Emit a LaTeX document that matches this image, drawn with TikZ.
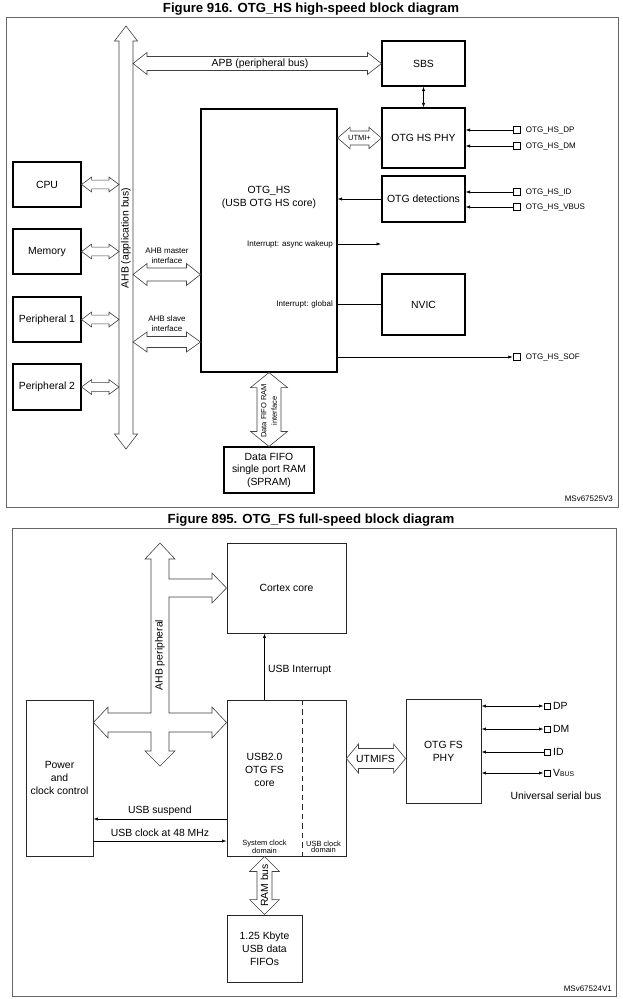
\documentclass[tikz,border=0pt]{standalone}
\usepackage{fontspec}
\setmainfont{Liberation Sans}
\usetikzlibrary{arrows.meta,calc}
\tikzset{
  box/.style={draw=black, line width=1.1pt, inner sep=0pt, align=center, font=\fontsize{10.4}{12.5}\selectfont},
  boxB/.style={draw=black!85, line width=0.9pt, inner sep=0pt, align=center, font=\fontsize{10.4}{13}\selectfont},
  frm/.style={draw=black!60, line width=0.9pt},
  fat/.style={draw=black!75, line width=0.6pt, fill=white},
  thin/.style={draw=black, line width=0.6pt},
  arr/.style={thin, -{Latex[length=4.5pt,width=3.2pt]}},
  darr/.style={thin, {Latex[length=4.5pt,width=3.2pt]}-{Latex[length=4.5pt,width=3.2pt]}},
  pinA/.style={draw, line width=1pt, minimum size=7.5pt, inner sep=0pt},
  pinB/.style={draw, line width=0.7pt, minimum size=6.3pt, inner sep=0pt},
  small/.style={font=\fontsize{8}{10}\selectfont, inner sep=0pt, align=center},
  tiny/.style={font=\fontsize{7.5}{6.5}\selectfont, inner sep=0pt, align=center},
  med/.style={font=\fontsize{10.4}{13}\selectfont, inner sep=0pt, align=center},
  ttl/.style={font=\bfseries\fontsize{13.2}{15}\selectfont, inner sep=0pt},
}
% horizontal fat double arrow: [style]{start}{end}{head length}{head half}{shaft half}
\newcommand\fatH[6][]{%
  \path[fat,#1] let \p1=(#2), \p2=(#3) in
   (\x1,\y1) -- (\x1+#4pt,\y1+#5pt) -- (\x1+#4pt,\y1+#6pt) -- (\x2-#4pt,\y1+#6pt) -- (\x2-#4pt,\y1+#5pt) -- (\x2,\y1)
   -- (\x2-#4pt,\y1-#5pt) -- (\x2-#4pt,\y1-#6pt) -- (\x1+#4pt,\y1-#6pt) -- (\x1+#4pt,\y1-#5pt) -- cycle;}
% vertical fat double arrow: {top}{bottom}{head length}{head half}{shaft half}
\newcommand\fatV[6][]{%
  \path[fat,#1] let \p1=(#2), \p2=(#3) in
   (\x1,\y1) -- (\x1+#5pt,\y1-#4pt) -- (\x1+#6pt,\y1-#4pt) -- (\x1+#6pt,\y2+#4pt) -- (\x1+#5pt,\y2+#4pt) -- (\x1,\y2)
   -- (\x1-#5pt,\y2+#4pt) -- (\x1-#6pt,\y2+#4pt) -- (\x1-#6pt,\y1-#4pt) -- (\x1-#5pt,\y1-#4pt) -- cycle;}
\begin{document}
\begin{tikzpicture}[x=1pt,y=-1pt]
\useasboundingbox (0,0) rectangle (623,999);
\fill[white] (0,0) rectangle (623,999);

%================ Figure 916 ================
\node[ttl] (t1) at (311,9.5) {Figure 916. OTG\_HS high-speed block diagram};
\draw[frm] (6,17) rectangle (618,507);

\node[box, minimum width=68pt, minimum height=45pt] (cpu) at (47,184.5) {CPU};
\node[box, minimum width=68pt, minimum height=45pt] (mem) at (47,251.5) {Memory};
\node[box, minimum width=68pt, minimum height=45pt] (per1) at (47,319.5) {Peripheral 1};
\node[box, minimum width=68pt, minimum height=46pt] (per2) at (47,387) {Peripheral 2};
\node[box, minimum width=136pt, minimum height=263pt] (hs) at (269,240.5) {};
\node[med] (hslbl) at (269,197) {OTG\_HS\\(USB OTG HS core)};
\node[box, minimum width=83pt, minimum height=45pt] (sbs) at (423.5,63.5) {SBS};
\node[box, minimum width=83pt, minimum height=60pt] (phy) at (423.5,138) {OTG HS PHY};
\node[box, minimum width=83pt, minimum height=46pt] (det) at (423.5,199) {OTG detections};
\node[box, minimum width=83pt, minimum height=61pt] (nvic) at (423.5,304.5) {NVIC};
\node[box, minimum width=90pt, minimum height=46pt] (fifo) at (269,470) {Data FIFO\\single port RAM\\(SPRAM)};

% AHB bus
\coordinate (ahbT) at (126,26);
\coordinate (ahbB) at (126,449);
\coordinate (ahbL) at (119,0);
\coordinate (ahbR) at (133,0);
\fatV{ahbT}{ahbB}{15}{11.5}{7}
\node[med, rotate=90] (ahblbl) at (126,238) {AHB (application bus)};

\fatH{cpu.east}{cpu.east -| ahbL}{10}{7.4}{4.4}
\fatH{mem.east}{mem.east -| ahbL}{10}{7.4}{4.4}
\fatH{per1.east}{per1.east -| ahbL}{10}{7.4}{4.4}
\fatH{per2.east}{per2.east -| ahbL}{10}{7.4}{4.4}

% APB
\fatH{ahbR |- sbs.west}{sbs.west}{14}{11}{7}
\node[med] (apblbl) at (260,63.5) {APB (peripheral bus)};

% AHB master / slave
\coordinate (mA) at (0,274.5);
\coordinate (mS) at (0,342);
\fatH{ahbR |- mA}{hs.west |- mA}{14}{11}{6.5}
\fatH{ahbR |- mS}{hs.west |- mS}{14}{10}{5.5}
\node[small] (mlbl) at (167,256) {AHB master\\interface};
\node[small] (slbl) at (167,323.5) {AHB slave\\interface};

% UTMI+
\fatH{hs.east |- phy.west}{phy.west}{12.5}{10.7}{7}
\node[small, font=\fontsize{7.5}{9}\selectfont] (utlbl) at (359.5,138) {UTMI+};

% Data FIFO RAM interface
\fatV{hs.south}{fifo.north}{15}{18.5}{12}
\node[small, font=\fontsize{7.5}{10.5}\selectfont, rotate=90] (dflbl) at (269,411) {Data FIFO RAM\\interface};

% thin connectors
\draw[darr] (sbs.south) -- (phy.north);
\draw[arr] (det.west) -- (det.west -| hs.east);

\node[pinA, label={[small, label distance=4.5pt]right:OTG\_HS\_DP}] (pdp) at (517,130) {};
\node[pinA, label={[small, label distance=4.5pt]right:OTG\_HS\_DM}] (pdm) at (517,146) {};
\node[pinA, label={[small, label distance=4.5pt]right:OTG\_HS\_ID}] (pid) at (517,192) {};
\node[pinA, label={[small, label distance=4.5pt]right:OTG\_HS\_VBUS}] (pvb) at (517,207) {};
\node[pinA, label={[small, label distance=4.5pt]right:OTG\_HS\_SOF}] (psof) at (517,357) {};
\draw[arr] (pdp) -- (pdp -| phy.east);
\draw[arr] (pdm) -- (pdm -| phy.east);
\draw[arr] (pid) -- (pid -| det.east);
\draw[arr] (pvb) -- (pvb -| det.east);
\draw[arr] (hs.east |- psof) -- (psof);

\coordinate (aw) at (381,244);
\draw[arr] (hs.east |- aw) -- (aw);
\node[small, anchor=east] (awlbl) at (333,244) {Interrupt: async wakeup};
\draw[thin] (hs.east |- nvic.west) -- (nvic.west);
\node[small, anchor=east] (gllbl) at (333,304.5) {Interrupt: global};

\node[small, anchor=east] (ms1) at (613,499) {MSv67525V3};

%================ Figure 895 ================
\node[ttl] (t2) at (311,520) {Figure 895. OTG\_FS full-speed block diagram};
\draw[frm] (12,528) rectangle (616,996);

\node[boxB, minimum width=119pt, minimum height=90pt] (cortex) at (286.5,588) {Cortex core};
\node[boxB, minimum width=119pt, minimum height=156pt] (usb) at (286.5,778) {};
\node[boxB, minimum width=67pt, minimum height=156pt] (power) at (59.5,778) {Power\\and\\clock control};
\node[boxB, minimum width=75pt, minimum height=67pt] (fifob) at (264.5,948.5) {1.25 Kbyte\\USB data\\FIFOs};
\node[boxB, minimum width=75pt, minimum height=104pt] (fsphy) at (443.5,751) {OTG FS\\PHY};

\coordinate (dx) at (302,0);
\draw[black!85, line width=0.9pt, dash pattern=on 5.5pt off 4pt] (usb.north -| dx) -- (usb.south -| dx);
\node[med] (usblbl) at (264.5,770) {USB2.0\\OTG FS\\core};
\node[tiny] (sysd) at (264.5,847) {System clock\\domain};
\node[tiny] (usbd) at (323.5,847) {USB clock\\domain};

% AHB peripheral cross-shaped bus
\draw[fat] (160,543) -- (175,559) -- (169,559) -- (169,579) -- (212,579) -- (212,573) -- (cortex.west |- 0,588)
  -- (212,603) -- (212,597) -- (169,597) -- (169,713) -- (212,713) -- (212,707) -- (usb.west |- 0,722.5)
  -- (212,738) -- (212,732) -- (169,732) -- (169,751) -- (175,751) -- (160,766) -- (145,751) -- (151,751)
  -- (151,732) -- (108,732) -- (108,738) -- (power.east |- 0,722.5) -- (108,707) -- (108,713) -- (151,713)
  -- (151,559) -- (145,559) -- cycle;
\node[med, rotate=90] (ahbplbl) at (160,655) {AHB peripheral};

% RAM bus
\coordinate (sysx) at (264.5,0);
\fatV{sysx |- usb.south}{fifob.north}{15}{15}{7.5}
\node[med, rotate=90] (ramlbl) at (264.5,885.5) {RAM bus};

% USB interrupt
\draw[arr] (sysx |- usb.north) -- (sysx |- cortex.south);
\node[med, anchor=west] (intlbl) at (268,670) {USB Interrupt};

% UTMIFS
\coordinate (uy) at (0,758.5);
\fatH{usb.east |- uy}{fsphy.west |- uy}{12}{14.5}{10}
\node[med] (utfs) at (375.5,758.5) {UTMIFS};

% suspend / clock
\coordinate (s1) at (0,819);
\coordinate (s2) at (0,841);
\draw[arr] (usb.west |- s1) -- (power.east |- s1);
\node[med] (suslbl) at (160,810.5) {USB suspend};
\draw[arr] (power.east |- s2) -- (usb.west |- s2);
\node[med] (clklbl) at (160,832.5) {USB clock at 48 MHz};

% pins
\node[pinB, label={[med, label distance=2.5pt]right:DP}] (qdp) at (547,706) {};
\node[pinB, label={[med, label distance=2.5pt]right:DM}] (qdm) at (547,729) {};
\node[pinB, label={[med, label distance=2.5pt]right:ID}] (qid) at (547,752) {};
\node[pinB, label={[med, label distance=2.5pt]right:{V{\fontsize{6.8}{8}\selectfont\raisebox{-0.6pt}{BUS}}}}] (qvb) at (547,773) {};
\draw[darr] (fsphy.east |- qdp) -- (qdp);
\draw[darr] (fsphy.east |- qdm) -- (qdm);
\draw[arr] (qid) -- (qid -| fsphy.east);
\draw[darr] (fsphy.east |- qvb) -- (qvb);
\node[med] (usbbus) at (556,796) {Universal serial bus};

\node[small, anchor=east] (ms2) at (612,989) {MSv67524V1};
\end{tikzpicture}
\end{document}
